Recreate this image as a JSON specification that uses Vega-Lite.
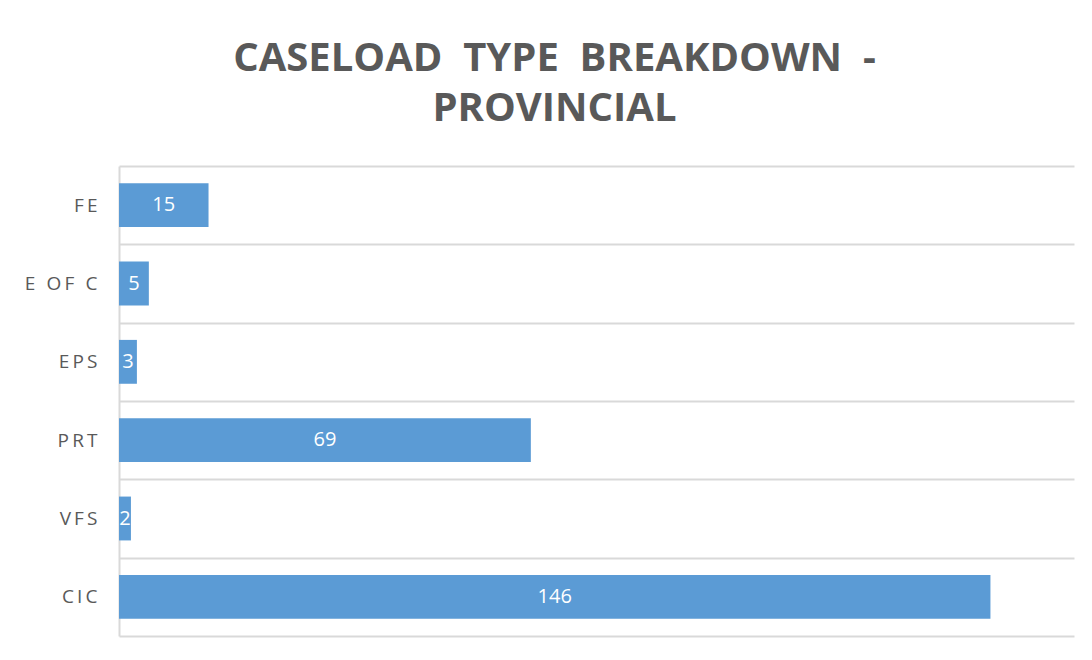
{
  "$schema": "https://vega.github.io/schema/vega-lite/v6.json",
  "width": 955,
  "height": 470,
  "autosize": {"type": "none"},
  "padding": {"left": 119, "top": 166, "right": 18, "bottom": 24},
  "background": "white",
  "title": {
    "text": ["CASELOAD\u00a0 TYPE\u00a0 BREAKDOWN\u00a0 -", "PROVINCIAL"],
    "font": "Open Sans",
    "fontSize": 40,
    "fontWeight": "bold",
    "color": "#595959",
    "lineHeight": 50,
    "anchor": "middle",
    "dx": -42,
    "offset": 28
  },
  "data": {
    "values": [
      {"type": "FE", "count": 15},
      {"type": "E OF C", "count": 5},
      {"type": "EPS", "count": 3},
      {"type": "PRT", "count": 69},
      {"type": "VFS", "count": 2},
      {"type": "CIC", "count": 146}
    ]
  },
  "encoding": {
    "y": {
      "field": "type",
      "type": "nominal",
      "sort": null,
      "scale": {"paddingInner": 0, "paddingOuter": 0},
      "axis": {
        "title": null,
        "ticks": false,
        "tickBand": "extent",
        "grid": true,
        "gridColor": "#d9d9d9",
        "gridWidth": 2,
        "domainColor": "#d9d9d9",
        "domainWidth": 2,
        "labelFont": "Open Sans",
        "labelFontSize": 19,
        "labelColor": "#595959",
        "labelPadding": 22,
        "labelExpr": "join(split(datum.label, ''), '\u2009')"
      }
    }
  },
  "layer": [
    {
      "mark": {"type": "bar", "color": "#5b9bd5", "height": {"band": 0.56}},
      "encoding": {
        "x": {"field": "count", "type": "quantitative", "scale": {"domain": [0, 160]}, "axis": null}
      }
    },
    {
      "mark": {"type": "text", "color": "white", "font": "Open Sans", "fontSize": 20, "baseline": "middle", "align": "center"},
      "encoding": {
        "x": {"field": "count", "type": "quantitative", "scale": {"domain": [0, 320]}, "axis": null},
        "text": {"field": "count", "type": "quantitative"}
      }
    }
  ],
  "resolve": {"scale": {"x": "independent"}},
  "config": {"view": {"stroke": null}}
}
